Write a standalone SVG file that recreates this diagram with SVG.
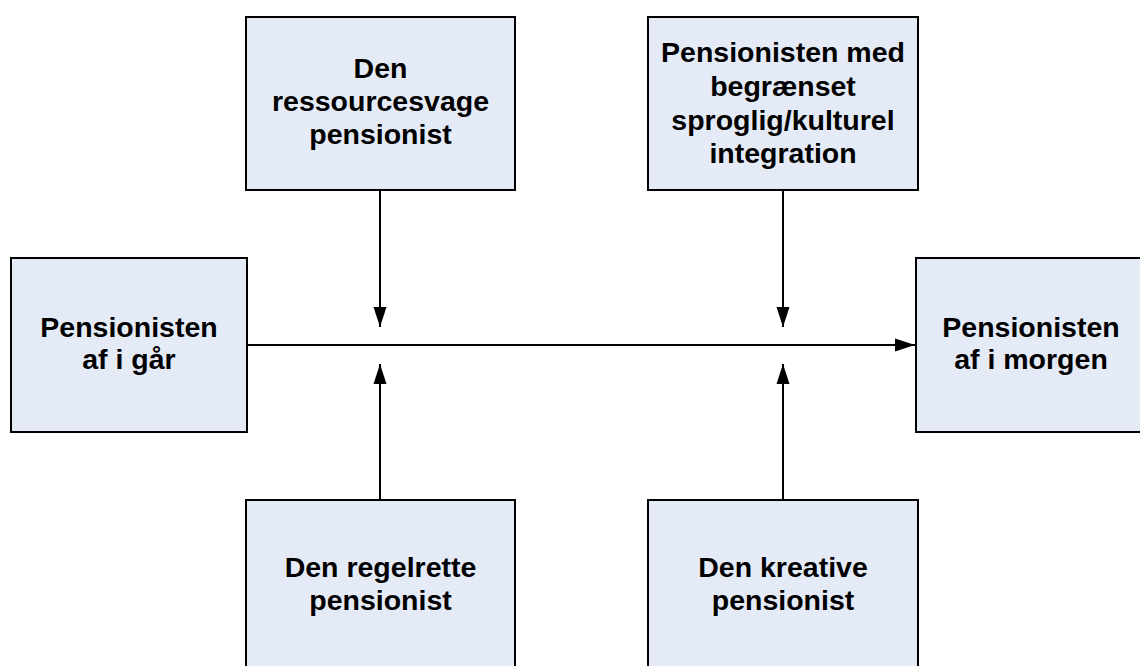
<svg xmlns="http://www.w3.org/2000/svg" width="1140" height="666" viewBox="0 0 1140 666">
<style>
.box{fill:#E5EBF6;stroke:#000;stroke-width:2}
.t{font-family:"Liberation Sans",Arial,sans-serif;font-weight:bold;font-size:28.5px;fill:#000;text-anchor:middle}
.c{stroke:#000;stroke-width:2;fill:none}
</style>
<defs>
<marker id="ah" markerUnits="userSpaceOnUse" markerWidth="21" markerHeight="14" refX="20" refY="7" orient="auto">
<path d="M0,0.5 L20,7 L0,13.5 Z" fill="#000"/>
</marker>
</defs>
<rect width="1140" height="666" fill="#fff"/>
<g id="connectors">
<line class="c" x1="247" y1="345" x2="915" y2="345" marker-end="url(#ah)"/>
<line class="c" x1="380" y1="190" x2="380" y2="327" marker-end="url(#ah)"/>
<line class="c" x1="380" y1="500" x2="380" y2="364" marker-end="url(#ah)"/>
<line class="c" x1="783" y1="190" x2="783" y2="327" marker-end="url(#ah)"/>
<line class="c" x1="783" y1="500" x2="783" y2="364" marker-end="url(#ah)"/>
</g>
<g id="ressourcesvage">
<rect class="box" x="246" y="17" width="269" height="173"/>
<text class="t"><tspan x="380.5" y="78">Den</tspan><tspan x="380.5" y="111">ressourcesvage</tspan><tspan x="380.5" y="144">pensionist</tspan></text>
</g>
<g id="begraenset">
<rect class="box" x="648" y="17" width="270" height="173"/>
<text class="t"><tspan x="783" y="62">Pensionisten med</tspan><tspan x="783" y="96">begrænset</tspan><tspan x="783" y="130">sproglig/kulturel</tspan><tspan x="783" y="163">integration</tspan></text>
</g>
<g id="igaar">
<rect class="box" x="11" y="258" width="236" height="174"/>
<text class="t"><tspan x="129" y="337">Pensionisten</tspan><tspan x="129" y="369">af i går</tspan></text>
</g>
<g id="imorgen">
<rect class="box" x="916" y="258" width="240" height="174"/>
<text class="t"><tspan x="1031" y="337">Pensionisten</tspan><tspan x="1031" y="369">af i morgen</tspan></text>
</g>
<g id="regelrette">
<rect class="box" x="246" y="500" width="269" height="180"/>
<text class="t"><tspan x="380.5" y="577">Den regelrette</tspan><tspan x="380.5" y="610">pensionist</tspan></text>
</g>
<g id="kreative">
<rect class="box" x="648" y="500" width="270" height="180"/>
<text class="t"><tspan x="783" y="577">Den kreative</tspan><tspan x="783" y="610">pensionist</tspan></text>
</g>
</svg>
